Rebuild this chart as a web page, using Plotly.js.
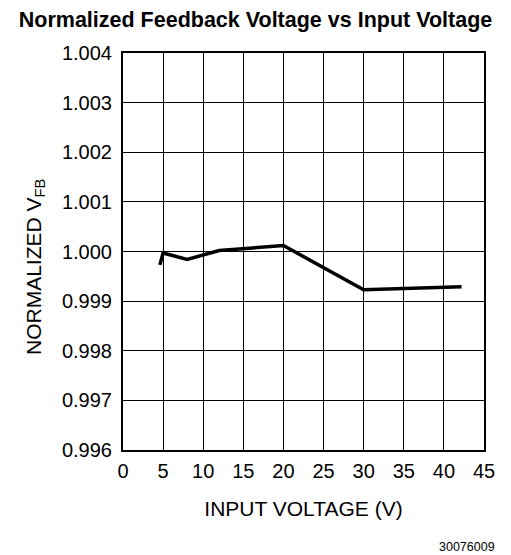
<!DOCTYPE html>
<html>
<head>
<meta charset="utf-8">
<script src="https://cdn.plot.ly/plotly-3.0.1.min.js"></script>
<style>html,body{margin:0;padding:0;background:#fff;}#chart{width:511px;height:555px;}</style>
</head>
<body>
<div id="chart"></div>
<script>
const inputVoltage = [4.6, 5.0, 8.0, 12.0, 20.0, 30.0, 42.2];
const normalizedVfb = [0.99973, 0.99997, 0.99984, 1.00002, 1.00012, 0.99923, 0.99929];
const xTicks = [0, 5, 10, 15, 20, 25, 30, 35, 40, 45];
const yTicks = [0.996, 0.997, 0.998, 0.999, 1.000, 1.001, 1.002, 1.003, 1.004];

const FONT = "Liberation Sans, Arial, Helvetica, sans-serif";
const L = 123, R = 27, T = 53, B = 105, W = 511, H = 555;
const PW = W - L - R, PH = H - T - B;

const trace = {
  x: inputVoltage,
  y: normalizedVfb,
  type: 'scatter',
  mode: 'lines',
  line: {color: '#000', width: 3.5},
  hoverinfo: 'skip'
};

const layout = {
  width: W,
  height: H,
  margin: {l: L, r: R, t: T, b: B, pad: 0},
  paper_bgcolor: '#fff',
  plot_bgcolor: '#fff',
  showlegend: false,
  font: {family: FONT, color: '#000', size: 20},
  title: {
    text: '<b>Normalized Feedback Voltage vs Input Voltage</b>',
    font: {family: FONT, size: 21.5, color: '#000'},
    x: 0.5, xanchor: 'center', xref: 'container',
    y: 1 - 19/H, yanchor: 'middle', yref: 'container'
  },
  xaxis: {
    range: [0, 45],
    tickvals: xTicks,
    ticktext: xTicks.map(String),
    showgrid: true,
    gridcolor: '#000',
    gridwidth: 1,
    showline: true,
    linecolor: '#000',
    linewidth: 2,
    mirror: true,
    zeroline: false,
    ticks: 'outside',
    ticklen: 2,
    tickcolor: 'rgba(0,0,0,0)',
    tickfont: {family: FONT, size: 20, color: '#000'},
    title: {text: 'INPUT VOLTAGE (V)', font: {family: FONT, size: 21, color: '#000'}, standoff: 20}
  },
  yaxis: {
    range: [0.996, 1.004],
    tickvals: yTicks,
    ticktext: yTicks.map(v => v.toFixed(3)),
    showgrid: true,
    gridcolor: '#000',
    gridwidth: 1,
    showline: true,
    linecolor: '#000',
    linewidth: 2,
    mirror: true,
    zeroline: false,
    ticks: 'outside',
    ticklen: 5,
    tickcolor: 'rgba(0,0,0,0)',
    tickfont: {family: FONT, size: 20, color: '#000'}
  },
  annotations: [{
    text: 'NORMALIZED V<sub>FB</sub>',
    textangle: -90,
    xref: 'paper', yref: 'paper',
    x: (35 - L) / PW, y: (H - B - 267) / PH,
    xanchor: 'center', yanchor: 'middle',
    showarrow: false,
    font: {family: FONT, size: 21, color: '#000'}
  }, {
    text: '30076009',
    xref: 'paper', yref: 'paper',
    x: (497 - L) / PW, y: (H - B - 547) / PH,
    xanchor: 'right', yanchor: 'middle',
    showarrow: false,
    font: {family: FONT, size: 12.5, color: '#000'}
  }]
};

Plotly.newPlot('chart', [trace], layout, {displayModeBar: false, staticPlot: true});
</script>
</body>
</html>
